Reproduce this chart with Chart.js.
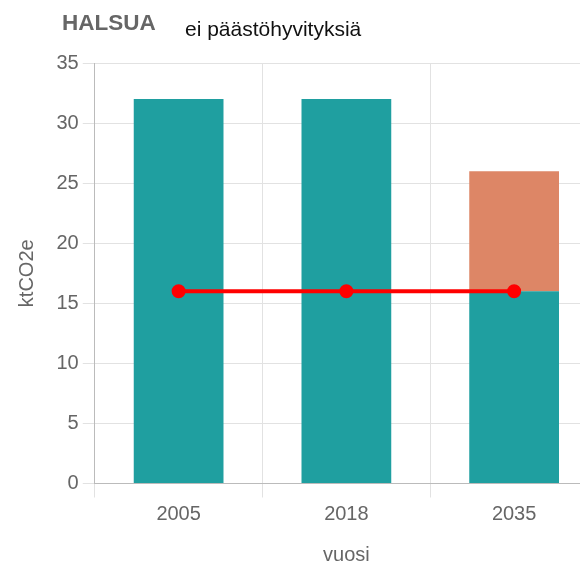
<!DOCTYPE html>
<html>
<head>
<meta charset="utf-8">
<script src="https://cdn.jsdelivr.net/npm/chart.js@4/dist/chart.umd.min.js"></script>
<style>
  body { margin: 0; overflow: hidden; background: #fff; font-family: "Liberation Sans", Arial, sans-serif; }
  #wrap { position: absolute; left: 0; top: 0; width: 607px; height: 567px; }
  #title { position: absolute; left: 62px; top: 12px; font-size: 22.5px; line-height: 1; font-weight: bold; color: #666; }
  #subtitle { position: absolute; left: 185px; top: 18px; font-size: 21px; line-height: 1; color: #111; }
</style>
</head>
<body>
<div id="wrap"><canvas id="chart"></canvas></div>
<div id="title">HALSUA</div>
<div id="subtitle">ei päästöhyvityksiä</div>
<script>
// data
const years = ['2005', '2018', '2035'];
const baseEmissions = [32, 32, 16];
const extraEmissions = [0, 0, 10];
const targetLine = [16, 16, 16];

const gray = '#666666';
const axisFont = { size: 20, family: 'Liberation Sans' };

const ctx = document.getElementById('chart').getContext('2d');
const myChart = new Chart(ctx, {
    type: 'bar',
    data: {
        labels: years,
        datasets: [{
            type: 'line',
            label: 'tavoite',
            data: targetLine,
            borderColor: '#ff0000',
            backgroundColor: '#ff0000',
            borderWidth: 4,
            pointRadius: 5,
            pointHoverRadius: 5,
            stack: 'line',
            order: 0
        }, {
            label: 'päästöt',
            data: baseEmissions,
            backgroundColor: '#1f9fa0',
            stack: 'bars',
            order: 1
        }, {
            label: 'lisä',
            data: extraEmissions,
            backgroundColor: '#dd8666',
            stack: 'bars',
            order: 1
        }]
    },
    options: {
        responsive: true,
        maintainAspectRatio: false,
        animation: false,
        layout: { padding: { top: 63, left: 15.5, right: 6, bottom: 0 } },
        plugins: {
            legend: { display: false },
            tooltip: { enabled: false }
        },
        datasets: {
            bar: { categoryPercentage: 1, barPercentage: 0.535 }
        },
        scales: {
            x: {
                stacked: true,
                grid: { color: '#e2e2e2', tickLength: 14 },
                border: { color: '#bbbbbb' },
                ticks: { color: gray, font: axisFont, padding: 5 },
                title: { display: true, text: 'vuosi', color: gray, font: axisFont, padding: { top: 11.5, bottom: 0 } }
            },
            y: {
                stacked: true,
                min: 0,
                max: 35,
                grid: { color: '#e2e2e2', tickLength: 12 },
                border: { color: '#bbbbbb' },
                ticks: { stepSize: 5, color: gray, font: axisFont, padding: 4 },
                title: { display: true, text: 'ktCO2e', color: gray, font: axisFont, padding: { top: 0, bottom: 13 } }
            }
        }
    }
});
</script>
</body>
</html>
